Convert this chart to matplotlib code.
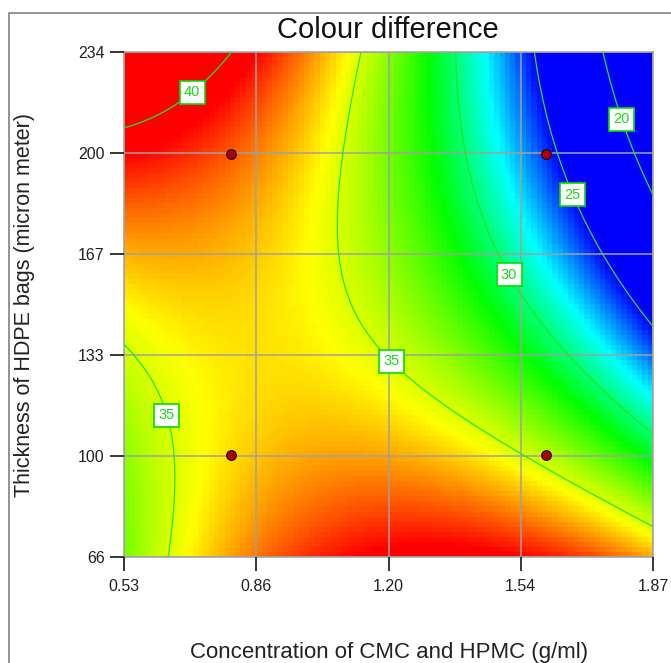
import numpy as np
import matplotlib
matplotlib.use("Agg")
import matplotlib.pyplot as plt
from matplotlib.colors import LinearSegmentedColormap
from matplotlib.lines import Line2D

plt.rcParams['font.family'] = ['Liberation Sans', 'DejaVu Sans']

# Factor ranges (actual units) and tick labels
conc_range = [0.53, 1.87]          # g/ml
thick_range = [66, 234]            # micron
x_tick_labels = ['0.53', '0.86', '1.20', '1.54', '1.87']
y_tick_labels = ['66', '100', '133', '167', '200', '234']

# Quadratic response-surface model in coded factors A (conc) and B (thickness)
coef_terms = ['Intercept', 'A', 'B', 'AB', 'A^2', 'B^2']
coef_values = [34.27, -5.8, -2.9, -7.5, -4.4, 2.3]

# Design points
design_conc = [0.80, 1.60, 0.80, 1.60]
design_thick = [200, 200, 100, 100]

contour_levels = [20, 25, 30, 35, 40]


def coded(v, lo, hi):
    return (np.asarray(v) - (lo + hi) / 2) / ((hi - lo) / 2)


def colour_difference(conc, thick):
    a = coded(conc, *conc_range)
    b = coded(thick, *thick_range)
    c0, ca, cb, cab, caa, cbb = coef_values
    return c0 + ca * a + cb * b + cab * a * b + caa * a ** 2 + cbb * b ** 2


fig = plt.figure(figsize=(6.71, 6.63), dpi=100)
W, H = 671, 663
ax = fig.add_axes([124 / W, 1 - 557 / H, 529 / W, 505.5 / H])

# Blocky colour map cells
n = 100
xe = np.linspace(*conc_range, n + 1)
ye = np.linspace(*thick_range, n + 1)
xc = (xe[:-1] + xe[1:]) / 2
yc = (ye[:-1] + ye[1:]) / 2
XC, YC = np.meshgrid(xc, yc)
Z = colour_difference(XC, YC)

vmin, vmax = 25.0, 39.2
stops = [25.0, 28.2, 31.5, 35.6, 39.2]
cols = ['#0000ff', '#00ffff', '#00ff00', '#ffff00', '#ff0000']
cmap = LinearSegmentedColormap.from_list(
    'de', [((s - vmin) / (vmax - vmin), c) for s, c in zip(stops, cols)])
ax.pcolormesh(xe, ye, Z, cmap=cmap, vmin=vmin, vmax=vmax,
              shading='flat', antialiased=False, zorder=1)

# Smooth contour lines
xf = np.linspace(*conc_range, 400)
yf = np.linspace(*thick_range, 400)
XF, YF = np.meshgrid(xf, yf)
ZF = colour_difference(XF, YF)
cs = ax.contour(XF, YF, ZF, levels=contour_levels, colors='#22e622',
                linewidths=0.9, zorder=4)

label_spots = [(0.677, 224.6), (0.649, 113.5), (1.216, 132.2),
               (1.513, 160.4), (1.677, 187.0), (1.804, 212.0)]
texts = ax.clabel(cs, contour_levels, inline=True, fmt='%d', fontsize=10.5,
                  colors='#19d919', manual=label_spots, inline_spacing=3)
for t in texts:
    t.set_rotation(0)
    t.set_bbox(dict(boxstyle='square,pad=0.3', fc='white', ec='#00e000', lw=1.2))
    t.set_zorder(6)

# Design points
ax.plot(design_conc, design_thick, 'o', ms=7, mfc='#a80000', mec='#2a0000',
        mew=0.8, zorder=7, clip_on=False)

ax.set_xlim(*conc_range)
ax.set_ylim(*thick_range)
ax.set_xticks(np.linspace(*conc_range, len(x_tick_labels)))
ax.set_xticklabels(x_tick_labels)
ax.set_yticks(np.linspace(*thick_range, len(y_tick_labels)))
ax.set_yticklabels(y_tick_labels)
ax.tick_params(direction='out', length=10, width=1.1, color='black',
               labelsize=11.5, labelcolor='#202020')
ax.tick_params(axis='x', pad=6)
ax.tick_params(axis='y', pad=4)
ax.set_axisbelow(False)
ax.grid(True, color='#a0a0a0', linewidth=1.1)
for s in ax.spines.values():
    s.set_color('#a0a0a0')
    s.set_linewidth(1.1)

fig.text(388 / W, 1 - 38.5 / H, 'Colour difference', ha='center',
         va='baseline', fontsize=21, color='#111111')
fig.text(389 / W, 1 - 658 / H, 'Concentration of CMC and HPMC (g/ml)',
         ha='center', va='baseline', fontsize=16, color='#222222')
fig.text(25 / W, 1 - 305 / H, 'Thickness of HDPE bags (micron meter)',
         ha='center', va='center', rotation=90, fontsize=15.5, color='#222222')

# Outer frame (left and top edges)
fig.add_artist(Line2D([8.5 / W, 8.5 / W, 1.0], [0.0, 1 - 13 / H, 1 - 13 / H],
                      transform=fig.transFigure, color='#808080', lw=1.2))

fig.savefig('out.png', dpi=100)
